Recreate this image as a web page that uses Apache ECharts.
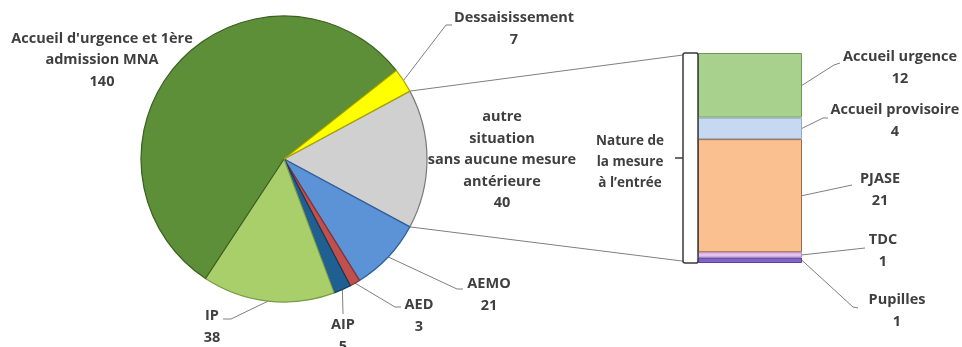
<!DOCTYPE html>
<html><head><meta charset="utf-8">
<script src="https://cdn.jsdelivr.net/npm/echarts@6/dist/echarts.min.js"></script>
<style>html,body{margin:0;padding:0;background:#fff}#c{width:962px;height:347px}</style>
</head><body><div id="c"></div>
<script>
// ---- data ----
const pieNames = ['autre\nsituation\nsans aucune mesure\nantérieure', 'AEMO', 'AED', 'AIP', 'IP', "Accueil d'urgence et 1ère\nadmission MNA", 'Dessaisissement'];
const pieValues = [40, 21, 3, 5, 38, 140, 7];
const barNames = ['Accueil urgence', 'Accueil provisoire', 'PJASE', 'TDC', 'Pupilles'];
const barValues = [12, 4, 21, 1, 1];
const bracketText = 'Nature de\nla mesure\nà l’entrée';

// ---- styles / layout ----
const pieColors = ['#d0d0d0', '#5b93d6', '#c0504d', '#1f5f91', '#a9cf6b', '#5c8f38', '#ffff00'];
const pieBorders = ['#7a7a7a', '#2e5f9e', '#8c2f2c', '#123a5c', '#7a9a45', '#3a5f22', '#a8a800'];
const barColors = ['#a9d18e', '#c6d9f1', '#fac090', '#e8c0f0', '#8064c8'];
const barBorders = ['#6f9a52', '#8fa9cc', '#9a6a48', '#b08ab8', '#5a44a0'];

const pieLabelPos = [[502, 160], [489, 295], [419, 316], [343, 336], [212, 327], [102, 60], [514, 29]];
const pieLeaderPts = [null, [[457, 289], [463, 289]], [[395, 307], [401, 307]], [[343, 314]], [[231, 319], [223, 319]], null, [[446, 25], [452, 25]]];
const barLabelPos = [[900, 68], [895, 121], [880, 190], [883, 251], [897, 311]];
const barLeaderPts = [[[834, 65], [840, 63]], [[823, 118], [828, 118]], [[852, 185]], [[865, 248]], [[853, 307], [858, 308]]];

const FONT = '"Open Sans", "Noto Sans", sans-serif';
const txt = { fontFamily: FONT, fontWeight: 'bold', fontSize: 14.5, color: '#3f3f3f', lineHeight: 21.5 };

const pieTotal = pieValues.reduce((a, b) => a + b, 0);
const barTotal = barValues.reduce((a, b) => a + b, 0);

const chart = echarts.init(document.getElementById('c'), null, { renderer: 'canvas' });

const series = [{
  type: 'pie',
  center: [284, 159],
  radius: 143,
  startAngle: 180 * pieValues[0] / pieTotal,
  clockwise: true,
  avoidLabelOverlap: false,
  animation: false,
  data: pieNames.map((n, i) => ({
    name: n, value: pieValues[i],
    itemStyle: { color: pieColors[i], borderColor: pieBorders[i], borderWidth: 1.2 }
  })),
  label: Object.assign({ show: true, position: 'outside', formatter: '{b}\n{c}', align: 'center' }, txt),
  labelLine: { show: false },
  labelLayout: p => ({ x: pieLabelPos[p.dataIndex][0], y: pieLabelPos[p.dataIndex][1], align: 'center', verticalAlign: 'middle' }),
  emphasis: { disabled: true }
}];

barNames.forEach((n, i) => {
  series.push({
    type: 'bar', name: n, stack: 's', barWidth: '100%', animation: false,
    data: [barValues[i]],
    itemStyle: { color: barColors[i], borderColor: barBorders[i], borderWidth: 1 },
    label: Object.assign({ show: true, position: 'right', formatter: '{a}\n{c}' }, txt),
    labelLayout: () => ({ x: barLabelPos[i][0], y: barLabelPos[i][1], align: 'center', verticalAlign: 'middle' }),
    emphasis: { disabled: true }
  });
});

chart.setOption({
  animation: false,
  grid: { left: 698, top: 53, width: 104, height: 210 },
  xAxis: { type: 'category', data: [''], show: false },
  yAxis: { type: 'value', min: 0, max: barTotal, inverse: true, show: false },
  series: series
});

// ---- annotations (leader lines, connectors, bracket) computed from the rendered layout ----
const model = chart.getModel();
const pieData = model.getSeriesByIndex(0).getData();
const rects = barNames.map((n, i) => {
  const l = model.getSeriesByIndex(i + 1).getData().getItemLayout(0);
  const y0 = Math.min(l.y, l.y + l.height), h = Math.abs(l.height);
  const x0 = Math.min(l.x, l.x + l.width), w = Math.abs(l.width);
  return { x: x0, y: y0, w: w, h: h };
});
const lineStyle = { stroke: '#7f7f7f', lineWidth: 1, fill: null };
const g = [];

function piePoint(angle, L) { return [L.cx + L.r * Math.cos(angle), L.cy + L.r * Math.sin(angle)]; }

// connectors from the "autre situation" slice to the bar
const L0 = pieData.getItemLayout(0);
const barTop = rects[0].y, barBottom = rects[rects.length - 1].y + rects[rects.length - 1].h, barLeft = rects[0].x, barRight = rects[0].x + rects[0].w;
const pA = piePoint(L0.startAngle, L0), pB = piePoint(L0.endAngle, L0);
const topP = pA[1] < pB[1] ? pA : pB, botP = pA[1] < pB[1] ? pB : pA;
g.push({ type: 'polyline', z: 1, shape: { points: [topP, [barLeft, barTop]] }, style: lineStyle, silent: true });
g.push({ type: 'polyline', z: 1, shape: { points: [botP, [barLeft, barBottom]] }, style: lineStyle, silent: true });

// pie leader lines
pieLeaderPts.forEach((pts, i) => {
  if (!pts) return;
  const L = pieData.getItemLayout(i);
  const start = piePoint((L.startAngle + L.endAngle) / 2, L);
  g.push({ type: 'polyline', z: 1, shape: { points: [start].concat(pts) }, style: lineStyle, silent: true });
});
// bar leader lines
barLeaderPts.forEach((pts, i) => {
  const r = rects[i];
  const start = [barRight, r.y + r.h / 2];
  g.push({ type: 'polyline', z: 1, shape: { points: [start].concat(pts) }, style: lineStyle, silent: true });
});

// bracket
const midY = (barTop + barBottom) / 2;
g.push({ type: 'rect', z: 3, shape: { x: barLeft - 15, y: barTop, width: 15, height: barBottom - barTop, r: 2 }, style: { fill: '#fff', stroke: '#3a3a3a', lineWidth: 1.5 }, silent: true });
g.push({ type: 'polyline', z: 3, shape: { points: [[barLeft - 23, midY], [barLeft - 15, midY]] }, style: { stroke: '#3a3a3a', lineWidth: 1.5 }, silent: true });
g.push({ type: 'text', z: 3, style: { text: bracketText, x: 630, y: 162, align: 'center', verticalAlign: 'middle', font: 'bold 13.5px ' + FONT, fill: '#3f3f3f', lineHeight: 21 }, silent: true });

chart.setOption({ graphic: g });
</script>
</body></html>
